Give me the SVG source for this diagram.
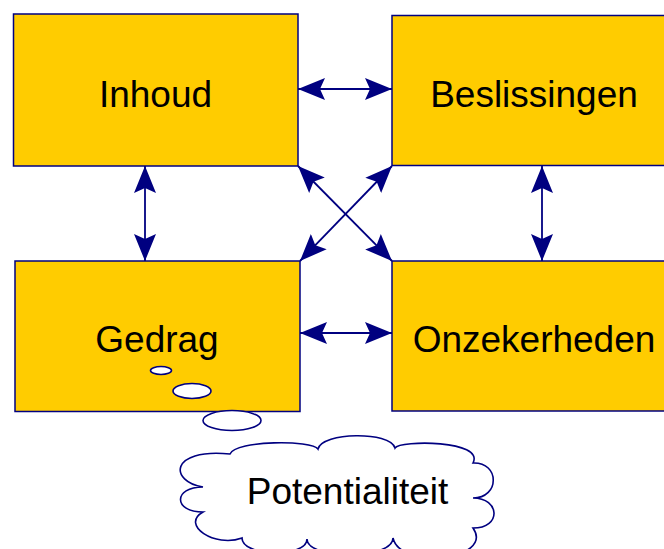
<svg xmlns="http://www.w3.org/2000/svg" width="664" height="549" viewBox="0 0 664 549">
<style>
.box{fill:#FFCC00;stroke:#000080;stroke-width:1.5}
.lbl{font-family:"Liberation Sans",Arial,sans-serif;font-size:37px;fill:#000;text-anchor:middle}
.con{stroke:#000080;stroke-width:1.8;fill:none}
.bub{fill:#fff;stroke:#000080;stroke-width:1.6}
</style>
<defs>
<marker id="ah" viewBox="0 -12 28 24" refX="27" refY="0" markerWidth="28" markerHeight="24" markerUnits="userSpaceOnUse" orient="auto-start-reverse">
<path d="M27,0 L0,-11 L5,0 L0,11 Z" fill="#000080"/>
</marker>
</defs>
<rect x="0" y="0" width="664" height="549" fill="#fff"/>
<g id="inhoud"><rect class="box" x="13.5" y="14" width="284.5" height="152"/><text class="lbl" x="155.5" y="107">Inhoud</text></g>
<g id="beslissingen"><rect class="box" x="392" y="15.5" width="285" height="150"/><text class="lbl" x="534" y="107">Beslissingen</text></g>
<g id="gedrag"><rect class="box" x="15" y="261" width="285" height="150.5"/><text class="lbl" x="157" y="352">Gedrag</text></g>
<g id="onzekerheden"><rect class="box" x="392" y="261" width="285" height="150"/><text class="lbl" x="534" y="352">Onzekerheden</text></g>
<g id="connectors">
<line class="con" x1="298" y1="89" x2="392" y2="89" marker-start="url(#ah)" marker-end="url(#ah)"/>
<line class="con" x1="300" y1="333" x2="392" y2="333" marker-start="url(#ah)" marker-end="url(#ah)"/>
<line class="con" x1="145" y1="166" x2="145" y2="261" marker-start="url(#ah)" marker-end="url(#ah)"/>
<line class="con" x1="542" y1="166" x2="542" y2="261" marker-start="url(#ah)" marker-end="url(#ah)"/>
<line class="con" x1="298" y1="166" x2="392" y2="261" marker-start="url(#ah)" marker-end="url(#ah)"/>
<line class="con" x1="392" y1="166" x2="300" y2="261" marker-start="url(#ah)" marker-end="url(#ah)"/>
</g>
<g id="potentialiteit">
<ellipse class="bub" cx="161" cy="370.5" rx="10.5" ry="4"/>
<ellipse class="bub" cx="192" cy="391" rx="19" ry="7.5"/>
<ellipse class="bub" cx="232" cy="420.5" rx="29" ry="10"/>
<path class="bub" d="M230,454 C236,440 312,440 318,449 C322,432 390,431 395,448 C400,440 485,440 473,463 C500,462 500,498 473,498 C500,498 502,528 473,528 C495,560 400,570 393,538 C393,560 307,560 307,539 C307,558 242,557 242,538 C215,548 180,525 203,512 C173,512 173,487 203,487 C170,482 168,448 230,454 Z"/>
<text class="lbl" x="347.5" y="504">Potentialiteit</text>
</g>
</svg>
